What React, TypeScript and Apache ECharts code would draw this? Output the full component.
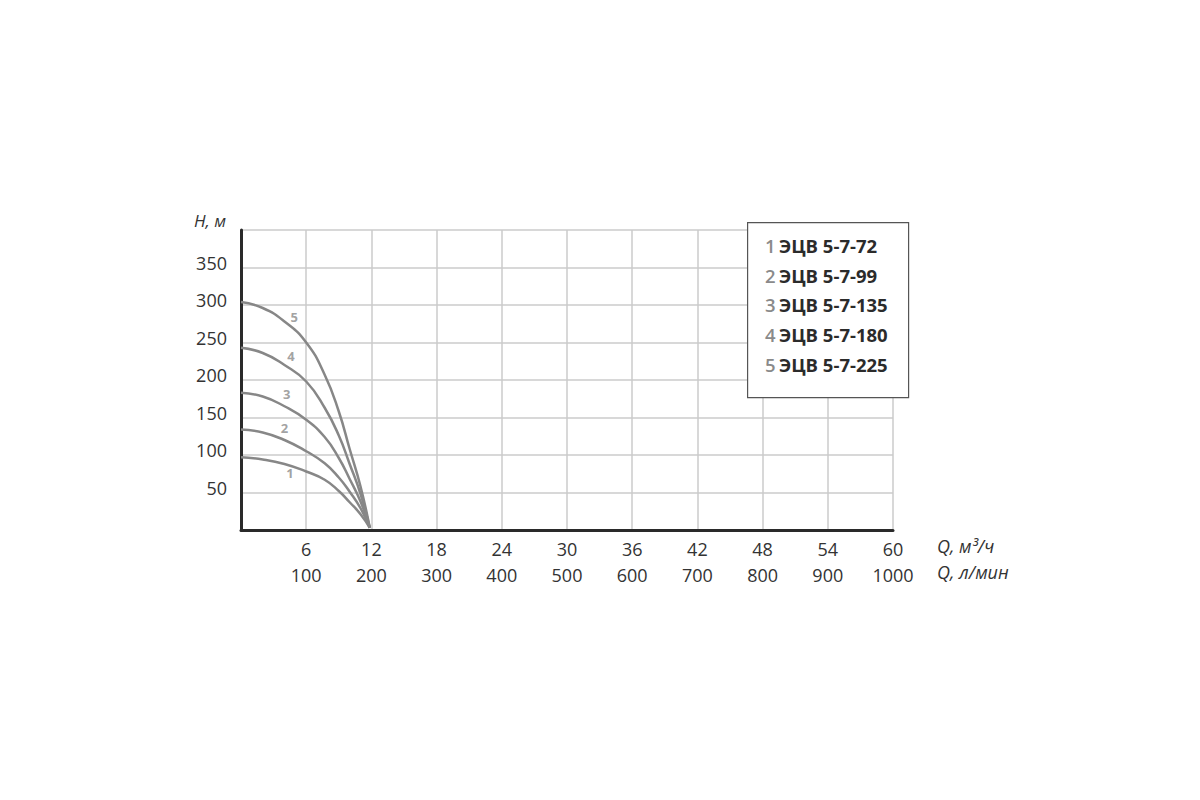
import React, { useEffect, useRef } from "react";
import * as echarts from "echarts";

// Q (m³/h) sample points and head H (m) for each pump model
const curveQ = [0, 2, 4, 6, 7.7, 9, 10, 11, 11.85];
const curve1 = [97, 94, 88, 78, 67, 52, 37, 21, 3];
const curve2 = [134, 130, 120, 105, 89, 70, 51, 29, 3];
const curve3 = [183, 178, 165, 147, 124, 96, 68, 38, 3];
const curve4 = [243, 236, 220, 198, 163, 126, 88, 48, 3];
const curve5 = [304, 296, 278, 250, 207, 158, 108, 58, 3];
const curves = [curve1, curve2, curve3, curve4, curve5];

const curveIds = ["1", "2", "3", "4", "5"];
const modelNames = ["ЭЦВ 5-7-72", "ЭЦВ 5-7-99", "ЭЦВ 5-7-135", "ЭЦВ 5-7-180", "ЭЦВ 5-7-225"];
// curve number label anchor positions [Q, H]
const idLabelQ = [4.5, 4.0, 4.2, 4.6, 4.9];
const idLabelH = [76, 136, 181, 232, 284];

const xTicksM3 = ["6", "12", "18", "24", "30", "36", "42", "48", "54", "60"];
const xTicksLpm = ["100", "200", "300", "400", "500", "600", "700", "800", "900", "1000"];
const yTicks = ["50", "100", "150", "200", "250", "300", "350"];

const FONT = "'Open Sans', 'Noto Sans', sans-serif";

export default function App() {
  const ref = useRef<HTMLDivElement>(null);
  useEffect(() => {
    const chart = echarts.init(ref.current!, null, { renderer: "svg" });
    const series: any[] = curves.map((c, i) => ({
      type: "line",
      name: modelNames[i],
      data: curveQ.map((q, j) => [q, c[j]]),
      smooth: 0.5,
      showSymbol: false,
      symbol: "none",
      lineStyle: { color: "#878787", width: 2.5 },
      z: 3,
    }));
    series.push({
      type: "scatter",
      data: idLabelQ.map((q, i) => ({ value: [q, idLabelH[i]], name: curveIds[i] })),
      symbolSize: 0,
      label: {
        show: true,
        position: "inside",
        formatter: (p: any) => p.name,
        color: "#8a8a8a",
        fontWeight: "bold",
        fontSize: 13,
        fontFamily: FONT,
      },
      z: 4,
    });

    const legendLines = curveIds.map((id, i) => ({
      type: "text",
      left: 765,
      top: 236 + i * 29.7,
      style: {
        text: `{n|${id}} {m|${modelNames[i]}}`,
        rich: {
          n: { fill: "#8a8a8a", fontSize: 18.5, fontFamily: FONT, fontWeight: 600 },
          m: { fill: "#2b2b2b", fontSize: 18.5, fontFamily: FONT, fontWeight: "bold" },
        },
      },
      z: 11,
    }));

    chart.setOption({
      animation: false,
      backgroundColor: "#fff",
      grid: { left: 241, right: 307, top: 230, bottom: 270 },
      xAxis: {
        type: "value",
        min: 0,
        max: 60,
        interval: 6,
        axisLine: { show: true, onZero: false, lineStyle: { color: "#2a2a2a", width: 3 } },
        axisTick: { show: false },
        splitLine: { show: true, lineStyle: { color: "#cbcbcb", width: 1.5 } },
        axisLabel: {
          margin: 6,
          formatter: (v: number) => {
            const idx = Math.round(v / 6) - 1;
            if (idx < 0) return "";
            return `{a|${xTicksM3[idx]}}\n{a|${xTicksLpm[idx]}}`;
          },
          rich: { a: { fontSize: 18, lineHeight: 26, color: "#333", fontFamily: FONT } },
        },
      },
      yAxis: {
        type: "value",
        min: 0,
        max: 400,
        interval: 50,
        axisLine: { show: true, lineStyle: { color: "#2a2a2a", width: 3 } },
        axisTick: { show: false },
        splitLine: { show: true, lineStyle: { color: "#cbcbcb", width: 1.5 } },
        axisLabel: {
          margin: 14,
          fontSize: 18,
          color: "#333",
          fontFamily: FONT,
          verticalAlign: "bottom",
          lineHeight: 10,
          formatter: (v: number) => {
            const idx = Math.round(v / 50) - 1;
            return idx >= 0 && idx < yTicks.length ? yTicks[idx] : "";
          },
        },
      },
      graphic: [
        {
          type: "text",
          left: 194,
          top: 212,
          style: { text: "H, м", fontSize: 17, fontStyle: "italic", fill: "#333", fontFamily: FONT },
        },
        {
          type: "text",
          left: 937,
          top: 537,
          style: { text: "Q, м³/ч", fontSize: 18, fontStyle: "italic", fill: "#333", fontFamily: FONT },
        },
        {
          type: "text",
          left: 937,
          top: 563,
          style: { text: "Q, л/мин", fontSize: 18, fontStyle: "italic", fill: "#333", fontFamily: FONT },
        },
        {
          type: "rect",
          left: 747,
          top: 222,
          shape: { width: 161, height: 175 },
          style: { fill: "#fff", stroke: "#555", lineWidth: 1.2 },
          z: 10,
        },
        ...legendLines,
      ],
      series,
    });
    return () => chart.dispose();
  }, []);
  return <div ref={ref} style={{ width: 1200, height: 800, margin: -8 }} />;
}
